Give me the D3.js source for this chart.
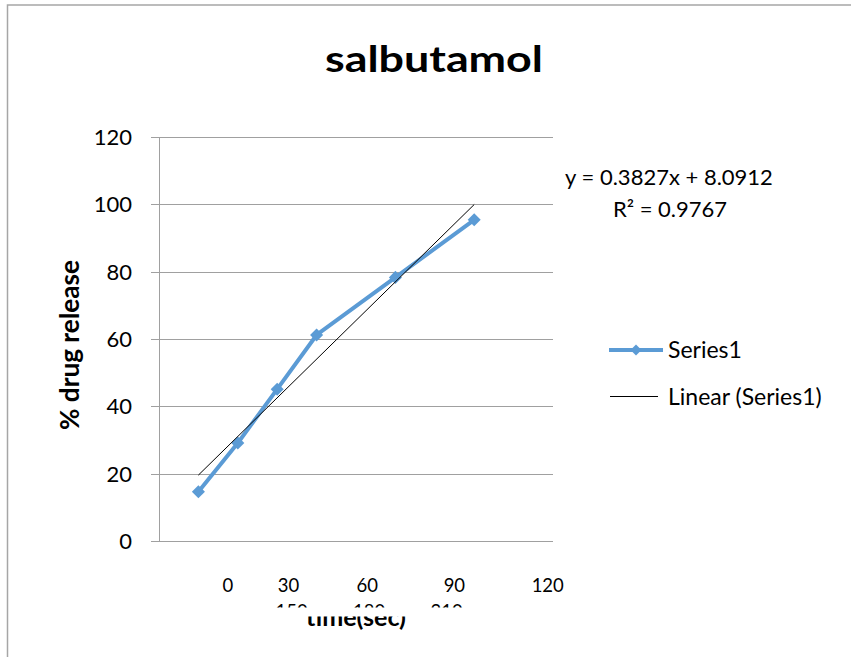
<!DOCTYPE html>
<html>
<head>
<meta charset="utf-8">
<script src="https://cdn.jsdelivr.net/npm/d3@7"></script>
<style>
  html, body { margin: 0; padding: 0; background: #fff; overflow: hidden; }
  svg { display: block; }
  text { font-family: Lato, "Open Sans", sans-serif; fill: #000; }
</style>
</head>
<body>
<div id="chart"></div>
<script>
const width = 851;
const height = 657;

// data
const times = [30, 60, 90, 120, 180, 240];
const release = [14.6, 29.1, 45.1, 61.2, 78.3, 95.4];
const yTicks = [0, 20, 40, 60, 80, 100, 120];
const xLabelsTop = [0, 30, 60, 90, 120];
const xLabelsHidden = [150, 180, 210];
const trendSlope = 0.3827;
const trendIntercept = 8.0912;
const rSquared = 0.9767;
const legendItems = ["Series1", "Linear (Series1)"];

const data = times.map((t, i) => ({ t, v: release[i] }));
const blue = "#5b9bd5";

const svg = d3
  .select("#chart")
  .append("svg")
  .attr("width", width)
  .attr("height", height);

// chart frame: only the top and left edges are inside the picture
svg.append("path")
  .attr("d", `M7.5,${height} V5 H${width}`)
  .attr("fill", "none")
  .attr("stroke", "#a6a6a6")
  .attr("stroke-width", 1.5);

const x = d3.scaleLinear().domain([0, 300]).range([159, 553]);
const y = d3.scaleLinear().domain([0, 120]).range([541, 137]);

// clip regions for the overlapped labels at the bottom
const defs = svg.append("defs");
defs.append("clipPath").attr("id", "clipHidden")
  .append("rect").attr("x", 0).attr("y", 590).attr("width", width).attr("height", 17.5);
defs.append("clipPath").attr("id", "clipTitle")
  .append("rect").attr("x", 0).attr("y", 616.5).attr("width", width).attr("height", 30);

// gridlines
svg.append("g")
  .selectAll("line")
  .data(yTicks)
  .join("line")
  .attr("x1", x(0) - 8)
  .attr("x2", x(300))
  .attr("y1", (d) => Math.round(y(d)) + 0.5)
  .attr("y2", (d) => Math.round(y(d)) + 0.5)
  .attr("stroke", "#a0a0a0");

// y axis line
svg.append("line")
  .attr("x1", x(0) + 0.5)
  .attr("x2", x(0) + 0.5)
  .attr("y1", y(120))
  .attr("y2", y(0))
  .attr("stroke", "#a0a0a0");

svg.append("g")
  .selectAll("text")
  .data(yTicks)
  .join("text")
  .attr("x", 132)
  .attr("y", (d) => y(d))
  .attr("dy", "0.36em")
  .attr("text-anchor", "end")
  .style("font-size", "22px")
  .text((d) => d);

// x labels, staggered the way the original shows them
const xTop = d3.scalePow().exponent(1.2).domain([0, 120]).range([x(52.5), x(296)]);
svg.append("g")
  .selectAll("text")
  .data(xLabelsTop)
  .join("text")
  .attr("x", (d) => xTop(d))
  .attr("y", 591.5)
  .attr("text-anchor", "middle")
  .style("font-size", "18.5px")
  .text((d) => d);

const xHidden = d3.scalePoint().domain(xLabelsHidden).range([x(101), x(219)]);
svg.append("g")
  .attr("clip-path", "url(#clipHidden)")
  .selectAll("text")
  .data(xLabelsHidden)
  .join("text")
  .attr("x", (d) => xHidden(d))
  .attr("y", 617.5)
  .attr("text-anchor", "middle")
  .style("font-size", "18.5px")
  .text((d) => d);

svg.append("g")
  .attr("clip-path", "url(#clipTitle)")
  .append("text")
  .attr("x", 356)
  .attr("y", 626)
  .attr("text-anchor", "middle")
  .attr("textLength", 100)
  .attr("lengthAdjust", "spacingAndGlyphs")
  .style("font-size", "24px")
  .style("font-weight", "bold")
  .text("time(sec)");

// y axis title
svg.append("text")
  .attr("transform", "translate(79,345) rotate(-90)")
  .attr("text-anchor", "middle")
  .attr("textLength", 170)
  .attr("lengthAdjust", "spacingAndGlyphs")
  .style("font-size", "26px")
  .style("font-weight", "bold")
  .text("% drug release");

// title
svg.append("text")
  .attr("x", 434)
  .attr("y", 71.5)
  .attr("text-anchor", "middle")
  .attr("textLength", 218)
  .attr("lengthAdjust", "spacingAndGlyphs")
  .style("font-size", "37px")
  .style("font-weight", "bold")
  .text("salbutamol");

// series
const line = d3.line().x((d) => x(d.t)).y((d) => y(d.v));
svg.append("path")
  .datum(data)
  .attr("d", line)
  .attr("fill", "none")
  .attr("stroke", blue)
  .attr("stroke-width", 4)
  .attr("stroke-linejoin", "round");

const diamond = d3.symbol(d3.symbolSquare, 85);
svg.append("g")
  .selectAll("path")
  .data(data)
  .join("path")
  .attr("d", diamond)
  .attr("transform", (d) => `translate(${x(d.t)},${y(d.v)}) rotate(45)`)
  .attr("fill", blue);

// linear trendline
const tExt = d3.extent(times);
svg.append("line")
  .attr("x1", x(tExt[0]))
  .attr("y1", y(trendSlope * tExt[0] + trendIntercept))
  .attr("x2", x(tExt[1]))
  .attr("y2", y(trendSlope * tExt[1] + trendIntercept))
  .attr("stroke", "#000")
  .attr("stroke-width", 1);

// equation label
svg.append("text")
  .attr("x", 669)
  .attr("y", 185)
  .attr("text-anchor", "middle")
  .style("font-size", "22px")
  .text(`y = ${trendSlope}x + ${trendIntercept}`);
svg.append("text")
  .attr("x", 670)
  .attr("y", 217)
  .attr("text-anchor", "middle")
  .style("font-size", "22px")
  .text(`R² = ${rSquared}`);

// legend
const legend = svg.append("g").attr("transform", "translate(609,350)");
legend.append("line")
  .attr("x1", 0).attr("x2", 54)
  .attr("stroke", blue).attr("stroke-width", 4);
legend.append("path")
  .attr("d", d3.symbol(d3.symbolSquare, 60))
  .attr("transform", "translate(27,0) rotate(45)")
  .attr("fill", blue);
legend.append("line")
  .attr("x1", 1).attr("x2", 49)
  .attr("y1", 46.5).attr("y2", 46.5)
  .attr("stroke", "#000");
legend.selectAll("text")
  .data(legendItems)
  .join("text")
  .attr("x", 59)
  .attr("y", (d, i) => i * 46.5)
  .attr("dy", "0.36em")
  .style("font-size", "23px")
  .text((d) => d);
</script>
</body>
</html>
